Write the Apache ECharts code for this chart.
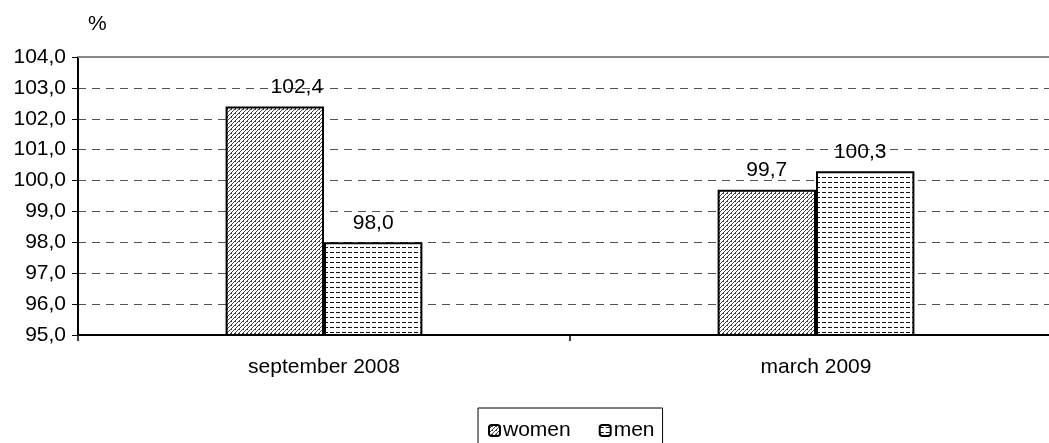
<!DOCTYPE html>
<html><head><meta charset="utf-8">
<script src="https://cdn.jsdelivr.net/npm/echarts@6/dist/echarts.min.js"></script>
<style>html,body{margin:0;padding:0;background:#fff;overflow:hidden;width:1049px;height:443px}#c{width:1062px;height:443px}</style>
</head><body><div id="c"></div>
<script>
const categories = ['september 2008', 'march 2009'];
const women = [102.4, 99.7];
const men = [98.0, 100.3];
const seriesNames = ['women', 'men'];

function womenPattern() {
  const c = document.createElement('canvas'); c.width = 4; c.height = 4;
  const g = c.getContext('2d');
  g.fillStyle = '#fff'; g.fillRect(0, 0, 4, 4);
  g.fillStyle = '#444';
  [[3,0],[2,1],[1,2],[0,3],[3,1]].forEach(p => g.fillRect(p[0], p[1], 1, 1));
  return c;
}
function menPattern() {
  const c = document.createElement('canvas'); c.width = 6; c.height = 5;
  const g = c.getContext('2d');
  g.fillStyle = '#fff'; g.fillRect(0, 0, 6, 5);
  g.fillStyle = '#111';
  g.fillRect(0, 2, 4, 1);
  return c;
}
const fmt = v => Number(v).toFixed(1).replace('.', ',');
const FS = 21;
const FONT = 'Liberation Sans, Arial, sans-serif';
const chart = echarts.init(document.getElementById('c'), null, {renderer: 'canvas'});
const labelOffsets = [[[22, 0], [0, 0]], [[0, 0], [-5, 0]]];
function mk(name, vals, pat, si) {
  return {
    name, type: 'bar', barGap: '0%', barCategoryGap: '60%',
    itemStyle: {color: {image: pat, repeat: 'repeat'}, borderColor: '#000', borderWidth: 2},
    label: {show: true, position: 'top', distance: 9, color: '#000', fontSize: FS, fontFamily: FONT,
      formatter: p => fmt(p.value)},
    data: vals.map((v, i) => ({value: v, label: {offset: labelOffsets[si][i]}}))
  };
}
chart.setOption({
  animation: false,
  textStyle: {fontFamily: FONT},
  grid: {left: 78, top: 57, right: 0, bottom: 108},
  legend: {
    data: seriesNames, left: 478, top: 408, padding: [12, 8, 10, 10],
    borderColor: '#000', borderWidth: 1, itemWidth: 11, itemHeight: 11, itemGap: 28,
    textStyle: {fontSize: FS, color: '#000', fontFamily: FONT, padding: [0, 0, 0, -2]}
  },
  xAxis: [{
    type: 'category', data: categories,
    axisLine: {lineStyle: {color: '#000', width: 2}},
    axisTick: {show: true, length: 6, lineStyle: {color: '#000', width: 1.5}},
    axisLabel: {fontSize: FS, color: '#000', margin: 22, fontFamily: FONT}
  }, {
    type: 'category', data: categories, position: 'top',
    axisLine: {lineStyle: {color: '#888', width: 2}},
    axisTick: {show: false}, axisLabel: {show: false}
  }],
  yAxis: {
    type: 'value', min: 95, max: 104, interval: 1,
    name: '%', nameLocation: 'end', nameGap: 22,
    nameTextStyle: {fontSize: FS, color: '#000', fontFamily: FONT, align: 'left', padding: [0, 0, 0, 10]},
    axisLine: {show: true, lineStyle: {color: '#000', width: 2}},
    axisTick: {show: true, length: 6, lineStyle: {color: '#000'}},
    axisLabel: {fontSize: FS, color: '#000', margin: 12, fontFamily: FONT, formatter: fmt},
    splitLine: {lineStyle: {color: '#555', type: [8, 6], width: 1}}
  },
  series: [mk('women', women, womenPattern(), 0), mk('men', men, menPattern(), 1)]
});
</script></body></html>
